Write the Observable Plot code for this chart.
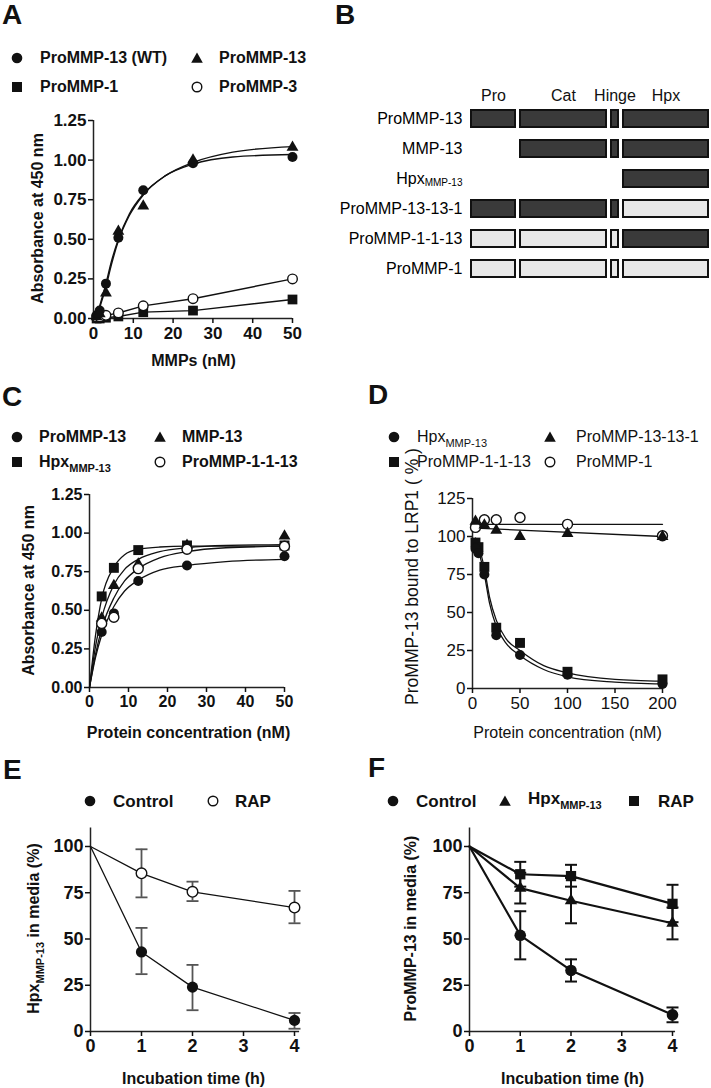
<!DOCTYPE html>
<html><head><meta charset="utf-8">
<script src="https://cdn.jsdelivr.net/npm/d3@7"></script>
<script src="https://cdn.jsdelivr.net/npm/@observablehq/plot@0.6"></script>
<style>
body{margin:0;background:#fff;}
#page{position:relative;width:711px;height:1088px;overflow:hidden;font-family:"Liberation Sans",Arial,Helvetica,sans-serif;color:#111;background:#fff;}
.abs{position:absolute;white-space:nowrap;line-height:1;}
.pbox{position:absolute;}
</style></head><body><div id="page"></div>
<script>
// ---------------- DATA ----------------
// Panel A
const seriesA = ["ProMMP-13 (WT)", "ProMMP-13", "ProMMP-1", "ProMMP-3"];
const concA = [0.78, 1.56, 3.125, 6.25, 12.5, 25, 50];
const aProMMP13WT = [0.02, 0.05, 0.22, 0.51, 0.81, 0.98, 1.02];
const aProMMP13 = [0.01, 0.03, 0.16, 0.55, 0.71, 1.00, 1.08];
const aProMMP1 = [0.00, 0.00, 0.005, 0.013, 0.04, 0.05, 0.12];
const aProMMP3 = [0.01, 0.01, 0.02, 0.035, 0.08, 0.125, 0.25];
const fitA_WT = [[0.6,0],[1.56,0.08],[3.125,0.22],[4.5,0.36],[6.25,0.5],[9,0.66],[12.5,0.785],[18,0.9],[25,0.975],[35,1.02],[50,1.035]];
const fitA_13 = [[0.6,0],[1.56,0.07],[3.125,0.2],[4.5,0.34],[6.25,0.49],[9,0.65],[12.5,0.78],[18,0.9],[25,0.985],[35,1.05],[50,1.085]];
const ticksA_x = [0, 10, 20, 30, 40, 50];
const ticksA_y = [0, 0.25, 0.5, 0.75, 1.0, 1.25];

// Panel B
const constructs = ["ProMMP-13", "MMP-13", "Hpx_MMP-13", "ProMMP-13-13-1", "ProMMP-1-1-13", "ProMMP-1"];
const domainNames = ["Pro", "Cat", "Hinge", "Hpx"];
const domainSpan = [[0, 46], [49, 137], [140, 149], [152, 239]]; // schematic units
const domainOrigin = [
  ["13", "13", "13", "13"],
  [null, "13", "13", "13"],
  [null, null, null, "13"],
  ["13", "13", "13", "1"],
  ["1", "1", "1", "13"],
  ["1", "1", "1", "1"]
];

// Panel C
const seriesC = ["ProMMP-13", "MMP-13", "Hpx_MMP-13", "ProMMP-1-1-13"];
const concC = [3.125, 6.25, 12.5, 25, 50];
const cProMMP13 = [0.36, 0.48, 0.69, 0.79, 0.85];
const cMMP13 = [0.45, 0.66, 0.80, 0.92, 0.98];
const cHpx = [0.59, 0.775, 0.89, 0.92, 0.92];
const cProMMP1113 = [0.415, 0.455, 0.77, 0.895, 0.915];
const fitC_ProMMP13 = [[0,0],[1.5,0.19],[3.125,0.34],[6.25,0.525],[9,0.625],[12.5,0.695],[18,0.76],[25,0.79],[35,0.815],[50,0.83]];
const fitC_MMP13 = [[0,0],[1.5,0.26],[3.125,0.45],[6.25,0.665],[9,0.765],[12.5,0.83],[18,0.88],[25,0.905],[35,0.92],[50,0.925]];
const fitC_Hpx = [[0,0],[1.5,0.33],[3.125,0.575],[6.25,0.78],[9,0.86],[12.5,0.895],[18,0.91],[25,0.915],[50,0.915]];
const fitC_ProMMP1113 = [[0,0],[1.5,0.21],[3.125,0.38],[6.25,0.58],[9,0.69],[12.5,0.77],[18,0.84],[25,0.88],[35,0.905],[50,0.915]];
const ticksC_x = [0, 10, 20, 30, 40, 50];
const ticksC_y = [0, 0.25, 0.5, 0.75, 1.0, 1.25];

// Panel D
const seriesD = ["Hpx_MMP-13", "ProMMP-13-13-1", "ProMMP-1-1-13", "ProMMP-1"];
const concD1 = [3.125, 6.25, 12.5, 25, 50, 100, 200];
const dHpx = [92, 89, 75, 35, 22, 9, 3];
const dProMMP1113 = [96, 93, 80, 40, 30, 11, 6];
const concD2 = [3.125, 12.5, 25, 50, 100, 200];
const dProMMP13131 = [110, 107.5, 104, 100, 102, 100];
const dProMMP1 = [106, 111, 111, 112.5, 108, 100.5];
const fitD_Hpx = [[3.125,98],[6.25,91],[12.5,75],[18,56],[25,41],[35,30],[50,21.7],[75,12.5],[100,7.7],[150,4.2],[200,3]];
const fitD_ProMMP1113 = [[3.125,99],[6.25,94],[12.5,79],[18,60],[25,45],[35,33],[50,25],[75,15],[100,10.3],[150,6],[200,4.8]];
const fitD_ProMMP13131 = [[3.125,105.5],[200,100]];
const fitD_ProMMP1 = [[3.125,108],[200,108]];
const ticksD_x = [0, 50, 100, 150, 200];
const ticksD_y = [0, 25, 50, 75, 100, 125];

// Panel E
const seriesE = ["Control", "RAP"];
const timeE = [0, 1, 2, 4];
const eControl = [100, 43, 24, 6];
const eRAP = [100, 85.5, 75.5, 67];
const errTimeE = [1, 2, 4];
const eControlLo = [31, 11.5, 1.5];
const eControlHi = [56, 36, 10];
const eRAPLo = [72.5, 70.5, 58.5];
const eRAPHi = [98.5, 81, 76];

// Panel F
const seriesF = ["Control", "Hpx_MMP-13", "RAP"];
const timeF = [0, 1, 2, 4];
const fControl = [100, 52, 33, 9];
const fHpx = [100, 77.5, 70.7, 58.5];
const fRAP = [100, 85, 84, 69];
const errTimeF = [1, 2, 4];
const fControlLo = [39, 27, 5];
const fControlHi = [65, 39, 13];
const fHpxLo = [69.2, 58.5, 49.8];
const fHpxHi = [85.8, 83, 67];
const fRAPLo = [78.3, 78.3, 59.1];
const fRAPHi = [91.7, 90.1, 79.3];

const ticksEF_x = [0, 1, 2, 3, 4];
const ticksEF_y = [0, 25, 50, 75, 100];

// ---------------- HELPERS ----------------
const FONT = '"Liberation Sans", Arial, Helvetica, sans-serif';
const page = document.getElementById("page");
const NS = "http://www.w3.org/2000/svg";
const rows = (xs, ys) => xs.map((x, i) => ({x, y: ys[i]}));
const pairs = (arr) => arr.map(([x, y]) => ({x, y}));
const errRows = (xs, lo, hi) => xs.map((x, i) => ({x, lo: lo[i], hi: hi[i]}));
const capSymbol = {draw(ctx, size) { const r = Math.sqrt(size / Math.PI); ctx.moveTo(-r, 0); ctx.lineTo(r, 0); }};

function subHTML(name, subSize, shift) {
  if (!name.includes("_MMP-13")) return name;
  const [pre, post] = name.split("_MMP-13");
  return pre + `<span style="font-size:${subSize}px;position:relative;top:${shift}px">MMP-13</span>` + (post || "");
}
function addText(html, x, y, size = 16, weight = "bold") {
  const d = document.createElement("div");
  d.className = "abs";
  d.innerHTML = html;
  d.style.fontSize = size + "px";
  d.style.fontWeight = weight;
  d.style.left = x + "px";
  d.style.top = (y - 0.4885 * size) + "px";
  page.appendChild(d);
}
function addLetter(ch, x, capTop) {
  const d = document.createElement("div");
  d.className = "abs";
  d.textContent = ch;
  d.style.fontSize = "28px"; d.style.fontWeight = "bold";
  d.style.left = x + "px"; d.style.top = Math.max(0.5, capTop - 0.13 * 28) + "px";
  page.appendChild(d);
}
function addSym(type, cx, cy) {
  const s = document.createElementNS(NS, "svg");
  s.setAttribute("width", 16); s.setAttribute("height", 16);
  s.style.position = "absolute"; s.style.left = (cx - 8) + "px"; s.style.top = (cy - 8) + "px";
  let el;
  if (type === "circle") { el = document.createElementNS(NS, "circle"); el.setAttribute("cx", 8); el.setAttribute("cy", 8); el.setAttribute("r", 5.3); el.setAttribute("fill", "#111"); }
  else if (type === "open") { el = document.createElementNS(NS, "circle"); el.setAttribute("cx", 8); el.setAttribute("cy", 8); el.setAttribute("r", 4.8); el.setAttribute("fill", "#fff"); el.setAttribute("stroke", "#111"); el.setAttribute("stroke-width", 1.4); }
  else if (type === "square") { el = document.createElementNS(NS, "rect"); el.setAttribute("x", 3); el.setAttribute("y", 3); el.setAttribute("width", 10); el.setAttribute("height", 10); el.setAttribute("fill", "#111"); }
  else { el = document.createElementNS(NS, "polygon"); el.setAttribute("points", "8,2.6 13.8,12.8 2.2,12.8"); el.setAttribute("fill", "#111"); }
  s.appendChild(el);
  page.appendChild(s);
}
function subifySvg(svg, size, shift) {
  svg.querySelectorAll("text").forEach(t => {
    if (t.children.length === 0 && t.textContent.includes("_MMP-13")) {
      const [pre, post] = t.textContent.split("_MMP-13");
      t.textContent = "";
      const a = document.createElementNS(NS, "tspan"); a.textContent = pre; t.appendChild(a);
      const b = document.createElementNS(NS, "tspan"); b.textContent = "MMP-13";
      b.setAttribute("font-size", size); b.setAttribute("dy", shift); t.appendChild(b);
      if (post) { const c = document.createElementNS(NS, "tspan"); c.textContent = post; c.setAttribute("dy", -shift); t.appendChild(c); }
    }
  });
}
function place(svg, left, top) {
  const box = document.createElement("div");
  box.className = "pbox";
  box.style.left = left + "px"; box.style.top = top + "px";
  box.appendChild(svg);
  page.appendChild(box);
}

function panel(cfg) {
  const {left, top, width, height, xDom, xPx, yDom, yPx, xTicks, yTicks, xFmt, yFmt,
    tickFont, weight, xAxisEnd, yAxisEnd, xLabel, xLabelPos, yLabel, yLabelPos, labelFont, yLabelFont, marks} = cfg;
  const mL = xPx[0] - left, mR = left + width - xPx[1], mT = yPx[1] - top, mB = top + height - yPx[0];
  const frameCx = (xPx[0] + xPx[1]) / 2, frameCy = (yPx[0] + yPx[1]) / 2;
  const svg = Plot.plot({
    width, height, marginLeft: mL, marginRight: mR, marginTop: mT, marginBottom: mB,
    x: {type: "linear", domain: xDom, range: [mL, width - mR]},
    y: {type: "linear", domain: yDom, range: [height - mB, mT]},
    style: {fontFamily: FONT, fontSize: tickFont + "px", fontWeight: weight, color: "#111", background: "transparent", overflow: "visible"},
    marks: [
      Plot.ruleY([yDom[0]], {x1: xDom[0], x2: xAxisEnd, strokeWidth: 1.5, stroke: "#222"}),
      Plot.ruleX([xDom[0]], {y1: yDom[0], y2: yAxisEnd, strokeWidth: 1.5, stroke: "#222"}),
      Plot.axisX({ticks: xTicks, tickFormat: xFmt, tickSize: 5, tickPadding: 3, strokeWidth: 1.5, label: null, fontSize: tickFont, fontWeight: weight, fontFamily: FONT}),
      Plot.axisY({ticks: yTicks, tickFormat: yFmt, tickSize: 5, tickPadding: 2, strokeWidth: 1.5, label: null, fontSize: tickFont, fontWeight: weight, fontFamily: FONT}),
      Plot.text([xLabel], {text: d => d, frameAnchor: "bottom", textAnchor: "middle", lineAnchor: "middle", dx: xLabelPos[0] - frameCx, dy: xLabelPos[1] - yPx[0], fontSize: labelFont, fontWeight: weight, fontFamily: FONT}),
      Plot.text([yLabel], {text: d => d, frameAnchor: "left", textAnchor: "middle", lineAnchor: "middle", rotate: -90, dx: yLabelPos[0] - xPx[0], dy: yLabelPos[1] - frameCy, fontSize: yLabelFont || labelFont, fontWeight: weight, fontFamily: FONT}),
      ...marks
    ]
  });
  subifySvg(svg, 11, 5);
  place(svg, left, top);
}

const fmtInt = d3.format("d");
const fmt2 = d3.format(".2f");

// ---------------- PANEL A ----------------
addLetter("A", 2, 5);
addSym("circle", 17, 58); addText(seriesA[0], 40, 58, 16);
addSym("triangle", 197, 58); addText(seriesA[1], 219, 58, 16);
addSym("square", 17, 87); addText(seriesA[2], 40, 87, 16);
addSym("open", 197, 87); addText(seriesA[3], 219, 87, 16);
panel({
  left: 0, top: 100, width: 330, height: 275,
  xDom: [0, 50], xPx: [93, 292], yDom: [0, 1.25], yPx: [318, 120],
  xTicks: ticksA_x, yTicks: ticksA_y, xFmt: fmtInt, yFmt: fmt2,
  tickFont: 17, weight: "bold", xAxisEnd: 50, yAxisEnd: 1.25,
  xLabel: "MMPs (nM)", xLabelPos: [193, 360], yLabel: "Absorbance at 450 nm", yLabelPos: [37, 218], labelFont: 16,
  marks: [
    Plot.line(pairs(fitA_WT), {x: "x", y: "y", curve: "monotone-x", stroke: "#111", strokeWidth: 1.4}),
    Plot.line(pairs(fitA_13), {x: "x", y: "y", curve: "monotone-x", stroke: "#111", strokeWidth: 1.4}),
    Plot.line(rows(concA, aProMMP3), {x: "x", y: "y", stroke: "#111", strokeWidth: 1.4}),
    Plot.line(rows(concA, aProMMP1), {x: "x", y: "y", stroke: "#111", strokeWidth: 1.4}),
    Plot.dot(rows(concA, aProMMP1), {x: "x", y: "y", symbol: "square", r: 5.5, fill: "#111", stroke: "none"}),
    Plot.dot(rows(concA, aProMMP3), {x: "x", y: "y", symbol: "circle", r: 4.8, fill: "#fff", stroke: "#111", strokeWidth: 1.4}),
    Plot.dot(rows(concA, aProMMP13WT), {x: "x", y: "y", symbol: "circle", r: 5, fill: "#111", stroke: "none"}),
    Plot.dot(rows(concA, aProMMP13), {x: "x", y: "y", symbol: "triangle", r: 4.4, fill: "#111", stroke: "none"})
  ]
});

// ---------------- PANEL B ----------------
addLetter("B", 335, 4);
{
  const segs = [];
  constructs.forEach((c, i) => domainOrigin[i].forEach((o, j) => {
    if (o) segs.push({construct: c, x1: domainSpan[j][0], x2: domainSpan[j][1], origin: o});
  }));
  const T = 60; // svg top offset
  const svg = Plot.plot({
    width: 381, height: 240, marginLeft: 140, marginRight: 2, marginTop: 96 - T, marginBottom: 9,
    x: {type: "linear", domain: [0, 239], range: [140, 379], axis: null},
    y: {type: "band", domain: constructs, range: [96.2 - T, 290.8 - T], padding: 0.36, axis: null},
    color: {domain: ["13", "1"], range: ["#3a3a3a", "#e8e8e8"]},
    style: {fontFamily: FONT, fontSize: "16px", color: "#111", background: "transparent", overflow: "visible"},
    marks: [
      Plot.barX(segs, {x1: "x1", x2: "x2", y: "construct", fill: "origin", stroke: "#111", strokeWidth: 2, inset: 1}),
      Plot.text(domainNames, {text: d => d, x: (d, i) => (domainSpan[i][0] + domainSpan[i][1]) / 2, frameAnchor: "top", textAnchor: "middle", lineAnchor: "middle", dy: -1, fontSize: 16, fontFamily: FONT, fill: "#111"}),
      Plot.text(constructs, {text: d => d, y: d => d, x: () => 0, textAnchor: "end", lineAnchor: "middle", dx: -8, fontSize: 16, fontFamily: FONT, fill: "#000"})
    ]
  });
  subifySvg(svg, 10, 1.5);
  place(svg, 330, T);
}

// ---------------- PANEL C ----------------
addLetter("C", 2, 387);
addSym("circle", 17, 437); addText(seriesC[0], 39, 437, 16);
addSym("triangle", 160, 437); addText(seriesC[1], 182, 437, 16);
addSym("square", 17, 462); addText(subHTML(seriesC[2], 11, 5), 39, 462, 16);
addSym("open", 160, 462); addText(seriesC[3], 182, 462, 16);
panel({
  left: 0, top: 470, width: 330, height: 275,
  xDom: [0, 50], xPx: [89, 284], yDom: [0, 1.25], yPx: [687, 494],
  xTicks: ticksC_x, yTicks: ticksC_y, xFmt: fmtInt, yFmt: fmt2,
  tickFont: 16, weight: "bold", xAxisEnd: 50, yAxisEnd: 1.25,
  xLabel: "Protein concentration (nM)", xLabelPos: [188, 732], yLabel: "Absorbance at 450 nm", yLabelPos: [28, 590], labelFont: 16,
  marks: [
    Plot.line(pairs(fitC_ProMMP13), {x: "x", y: "y", curve: "monotone-x", stroke: "#111", strokeWidth: 1.3}),
    Plot.line(pairs(fitC_MMP13), {x: "x", y: "y", curve: "monotone-x", stroke: "#111", strokeWidth: 1.3}),
    Plot.line(pairs(fitC_Hpx), {x: "x", y: "y", curve: "monotone-x", stroke: "#111", strokeWidth: 1.3}),
    Plot.line(pairs(fitC_ProMMP1113), {x: "x", y: "y", curve: "monotone-x", stroke: "#111", strokeWidth: 1.3}),
    Plot.dot(rows(concC, cProMMP13), {x: "x", y: "y", symbol: "circle", r: 5, fill: "#111", stroke: "none"}),
    Plot.dot(rows(concC, cMMP13), {x: "x", y: "y", symbol: "triangle", r: 4.4, fill: "#111", stroke: "none"}),
    Plot.dot(rows(concC, cHpx), {x: "x", y: "y", symbol: "square", r: 5.6, fill: "#111", stroke: "none"}),
    Plot.dot(rows(concC, cProMMP1113), {x: "x", y: "y", symbol: "circle", r: 5, fill: "#fff", stroke: "#111", strokeWidth: 1.4})
  ]
});

// ---------------- PANEL D ----------------
addLetter("D", 368, 385);
addSym("circle", 394, 437); addText(subHTML(seriesD[0], 11, 5), 417, 437, 16, "normal");
addSym("triangle", 550, 437); addText(seriesD[1], 576, 437, 16, "normal");
addSym("square", 394, 462); addText(seriesD[2], 417, 462, 16, "normal");
addSym("open", 550, 462); addText(seriesD[3], 576, 462, 16, "normal");
panel({
  left: 355, top: 470, width: 356, height: 275,
  xDom: [0, 200], xPx: [472, 662], yDom: [0, 125], yPx: [688, 498],
  xTicks: ticksD_x, yTicks: ticksD_y, xFmt: fmtInt, yFmt: fmtInt,
  tickFont: 17, weight: "normal", xAxisEnd: 200, yAxisEnd: 125,
  xLabel: "Protein concentration (nM)", xLabelPos: [567, 732], yLabel: "ProMMP-13 bound to LRP1 ( % )", yLabelPos: [412, 576], labelFont: 16, yLabelFont: 17.5,
  marks: [
    Plot.line(pairs(fitD_Hpx), {x: "x", y: "y", curve: "monotone-x", stroke: "#111", strokeWidth: 1.3}),
    Plot.line(pairs(fitD_ProMMP1113), {x: "x", y: "y", curve: "monotone-x", stroke: "#111", strokeWidth: 1.3}),
    Plot.line(pairs(fitD_ProMMP13131), {x: "x", y: "y", stroke: "#111", strokeWidth: 1.3}),
    Plot.line(pairs(fitD_ProMMP1), {x: "x", y: "y", stroke: "#111", strokeWidth: 1.3}),
    Plot.dot(rows(concD2, dProMMP1), {x: "x", y: "y", symbol: "circle", r: 5, fill: "#fff", stroke: "#111", strokeWidth: 1.4}),
    Plot.dot(rows(concD2, dProMMP13131), {x: "x", y: "y", symbol: "triangle", r: 4.4, fill: "#111", stroke: "none"}),
    Plot.dot(rows(concD1, dProMMP1113), {x: "x", y: "y", symbol: "square", r: 5.6, fill: "#111", stroke: "none"}),
    Plot.dot(rows(concD1, dHpx), {x: "x", y: "y", symbol: "circle", r: 5, fill: "#111", stroke: "none"})
  ]
});

// ---------------- PANEL E ----------------
addLetter("E", 3, 760);
addSym("circle", 90, 801); addText(seriesE[0], 113, 801, 17);
addSym("open", 213, 801); addText(seriesE[1], 235, 801, 17);
panel({
  left: 0, top: 815, width: 330, height: 273,
  xDom: [0, 4], xPx: [90, 294], yDom: [0, 100], yPx: [1031, 846],
  xTicks: ticksEF_x, yTicks: ticksEF_y, xFmt: fmtInt, yFmt: fmtInt,
  tickFont: 18, weight: "bold", xAxisEnd: 4.1, yAxisEnd: 110,
  xLabel: "Incubation time (h)", xLabelPos: [193, 1078], yLabel: "Hpx_MMP-13 in media (%)", yLabelPos: [33, 928], labelFont: 16,
  marks: [
    Plot.line(rows(timeE, eControl), {x: "x", y: "y", stroke: "#111", strokeWidth: 1.3}),
    Plot.line(rows(timeE, eRAP), {x: "x", y: "y", stroke: "#111", strokeWidth: 1.3}),
    ...[errRows(errTimeE, eControlLo, eControlHi), errRows(errTimeE, eRAPLo, eRAPHi)].flatMap(er => [
      Plot.ruleX(er, {x: "x", y1: "lo", y2: "hi", stroke: "#555", strokeWidth: 1.8}),
      Plot.dot(er, {x: "x", y: "lo", symbol: capSymbol, r: 6, fill: "none", stroke: "#555", strokeWidth: 1.8}),
      Plot.dot(er, {x: "x", y: "hi", symbol: capSymbol, r: 6, fill: "none", stroke: "#555", strokeWidth: 1.8})
    ]),
    Plot.dot(rows(timeE, eControl).slice(1), {x: "x", y: "y", symbol: "circle", r: 5.6, fill: "#111", stroke: "none"}),
    Plot.dot(rows(timeE, eRAP).slice(1), {x: "x", y: "y", symbol: "circle", r: 5.3, fill: "#fff", stroke: "#111", strokeWidth: 1.4})
  ]
});

// ---------------- PANEL F ----------------
addLetter("F", 368, 758);
addSym("circle", 393, 801); addText(seriesF[0], 416, 801, 17);
addSym("triangle", 505, 801); addText(subHTML(seriesF[1], 11, 5), 528, 798, 17);
addSym("square", 634, 801); addText(seriesF[2], 658, 801, 17);
panel({
  left: 355, top: 815, width: 356, height: 273,
  xDom: [0, 4], xPx: [469, 672], yDom: [0, 100], yPx: [1031, 846],
  xTicks: ticksEF_x, yTicks: ticksEF_y, xFmt: fmtInt, yFmt: fmtInt,
  tickFont: 18, weight: "bold", xAxisEnd: 4.06, yAxisEnd: 110,
  xLabel: "Incubation time (h)", xLabelPos: [572, 1078], yLabel: "ProMMP-13 in media (%)", yLabelPos: [410, 928], labelFont: 16,
  marks: [
    Plot.line(rows(timeF, fControl), {x: "x", y: "y", stroke: "#111", strokeWidth: 2.2}),
    Plot.line(rows(timeF, fHpx), {x: "x", y: "y", stroke: "#111", strokeWidth: 2.2}),
    Plot.line(rows(timeF, fRAP), {x: "x", y: "y", stroke: "#111", strokeWidth: 2.2}),
    ...[errRows(errTimeF, fControlLo, fControlHi), errRows(errTimeF, fHpxLo, fHpxHi), errRows(errTimeF, fRAPLo, fRAPHi)].flatMap(er => [
      Plot.ruleX(er, {x: "x", y1: "lo", y2: "hi", stroke: "#111", strokeWidth: 2}),
      Plot.dot(er, {x: "x", y: "lo", symbol: capSymbol, r: 6, fill: "none", stroke: "#111", strokeWidth: 2}),
      Plot.dot(er, {x: "x", y: "hi", symbol: capSymbol, r: 6, fill: "none", stroke: "#111", strokeWidth: 2})
    ]),
    Plot.dot(rows(timeF, fControl).slice(1), {x: "x", y: "y", symbol: "circle", r: 5.8, fill: "#111", stroke: "none"}),
    Plot.dot(rows(timeF, fHpx).slice(1), {x: "x", y: "y", symbol: "triangle", r: 4.6, fill: "#111", stroke: "none"}),
    Plot.dot(rows(timeF, fRAP).slice(1), {x: "x", y: "y", symbol: "square", r: 5.8, fill: "#111", stroke: "none"})
  ]
});
</script></body></html>
